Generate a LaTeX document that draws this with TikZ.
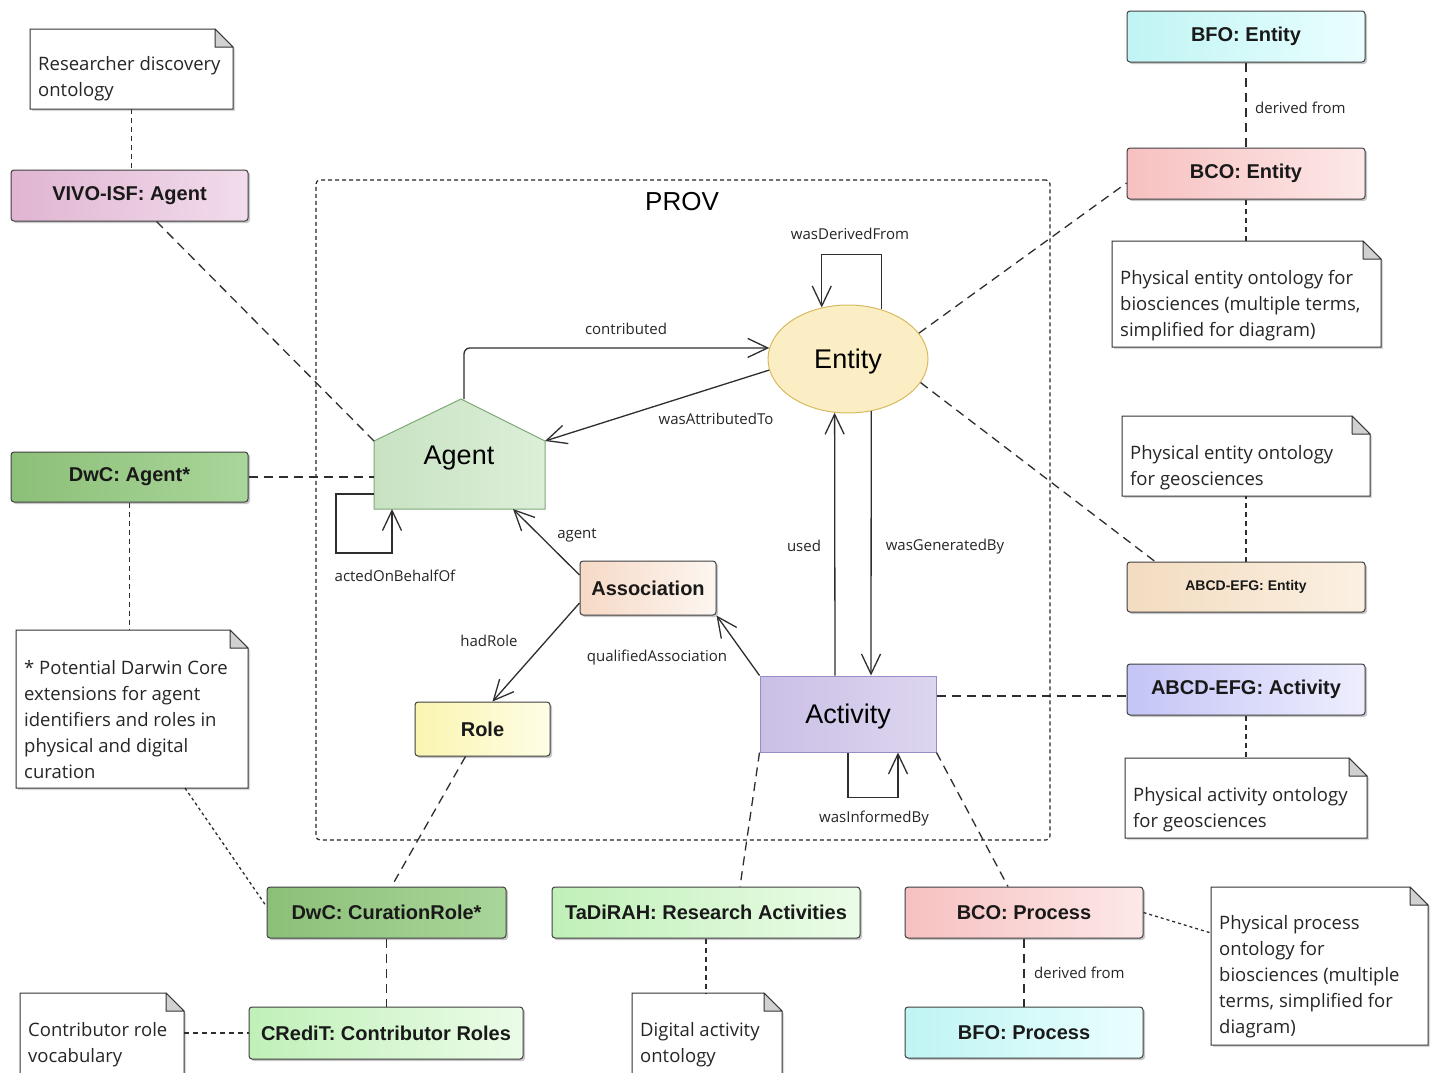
\documentclass[tikz,border=0pt]{standalone}
\usepackage{fontspec}
\setmainfont{Liberation Sans}
\newfontfamily\notefamily{Open Sans}
\usetikzlibrary{arrows.meta,shadows,shapes.geometric}
\newcommand\boxfont{\fontsize{20}{24}\selectfont\bfseries}
\newcommand\smallboxfont{\fontsize{14}{17}\selectfont\bfseries}
\newcommand\bigfont{\fontsize{27}{32}\selectfont}
\newcommand\provfont{\fontsize{26}{30}\selectfont}
\newcommand\notefont{\notefamily\fontsize{18.5}{26}\selectfont}
\newcommand\labfont{\notefamily\fontsize{15}{18}\selectfont}
\definecolor{vivoL}{HTML}{E0B5D2}\definecolor{vivoR}{HTML}{F2DCEB}
\definecolor{dwcL}{HTML}{8CBF78}\definecolor{dwcR}{HTML}{A9D69A}
\definecolor{ltgL}{HTML}{C0F0B8}\definecolor{ltgR}{HTML}{EBFCE8}
\definecolor{cyL}{HTML}{C0F4F4}\definecolor{cyR}{HTML}{EAFEFE}
\definecolor{pkL}{HTML}{F7C0C0}\definecolor{pkR}{HTML}{FDE8E8}
\definecolor{peL}{HTML}{F3DCC0}\definecolor{peR}{HTML}{FBF0E2}
\definecolor{lvL}{HTML}{C4C4F6}\definecolor{lvR}{HTML}{EEEEFE}
\definecolor{asL}{HTML}{F6D9C6}\definecolor{asR}{HTML}{FDF6F0}
\definecolor{roL}{HTML}{FAF5B0}\definecolor{roR}{HTML}{FEFDE6}
\definecolor{acL}{HTML}{CABFE6}\definecolor{acR}{HTML}{DDD6EF}
\definecolor{acD}{HTML}{9A8CC8}
\definecolor{enF}{HTML}{FCEEC4}\definecolor{enD}{HTML}{D8BA5E}
\definecolor{agL}{HTML}{C8E2C2}\definecolor{agR}{HTML}{DCEFD8}\definecolor{agD}{HTML}{7FA878}
\definecolor{lnc}{HTML}{2E2E2E}
\tikzset{
  ont/.style={rectangle, rounded corners=3pt, draw=black!75, line width=1pt, inner sep=0pt,
    font=\boxfont, text=black!90, minimum width=238pt, minimum height=51pt,
    drop shadow={shadow xshift=2pt, shadow yshift=-2pt, opacity=0.22, fill=black}},
  notebase/.style={rectangle, inner sep=0pt, outer sep=0pt, draw=none},
  noteshape/.style={draw=black!80, line width=1pt, fill=white,
    drop shadow={shadow xshift=2pt, shadow yshift=-2pt, opacity=0.15, fill=black}},
  foldshape/.style={draw=black!80, line width=1pt, fill=black!18, line join=round},
  notetext/.style={font=\notefont, align=left, inner sep=0pt, text=black!85, anchor=west},
  lab/.style={font=\labfont, inner sep=0pt, text=black!85},
  arr/.style={draw=lnc, line width=1.3pt, -{Straight Barb[length=20pt,width=19pt,line width=1.3pt]}},
  lnk/.style={draw=lnc, line width=1.3pt, dash pattern=on 9pt off 6pt},
  nlnk/.style={draw=lnc, line width=1.3pt, dash pattern=on 5pt off 4pt},
  dlnk/.style={draw=lnc, line width=1.3pt, dash pattern=on 3pt off 3pt},
  frame/.style={draw=black!85, line width=1.2pt, dash pattern=on 4pt off 3pt, rounded corners=4pt, inner sep=0pt}
}
\newcommand\notebox[7]{%
  \node[notebase, minimum width=#4pt, minimum height=#5pt, anchor=north west] (#1) at (#2,#3) {};
  \draw[noteshape] (#1.north west) -- ([xshift=-18pt]#1.north east) -- ([yshift=-18pt]#1.north east) -- (#1.south east) -- (#1.south west) -- cycle;
  \draw[foldshape] ([xshift=-18pt]#1.north east) -- ([xshift=-18pt,yshift=-18pt]#1.north east) -- ([yshift=-18pt]#1.north east) -- cycle;
  \node[notetext] (#1T) at (#2+8,#6+3) {#7};
}
\begin{document}
\begin{tikzpicture}[x=1pt,y=-1pt]
\fill[white] (0,0) rectangle (1439,1072);
\useasboundingbox (0,0) rectangle (1439,1072);

% PROV frame
\node[frame, minimum width=734pt, minimum height=660pt] (prov) at (683,510) {};
\node[font=\provfont, inner sep=0pt] (provT) at (682,202) {PROV};

% notes
\notebox{resnote}{30}{29}{203}{80}{76}{Researcher discovery\\ontology}
\notebox{potnote}{16}{630}{232}{158}{717}{* Potential Darwin Core\\extensions for agent\\identifiers and roles in\\physical and digital\\curation}
\notebox{bionote}{1112}{241}{269}{106}{303}{Physical entity ontology for\\biosciences (multiple terms,\\simplified for diagram)}
\notebox{geonote}{1122}{416}{248}{80}{465}{Physical entity ontology\\for geosciences}
\notebox{actnote}{1125}{758}{242}{80}{807}{Physical activity ontology\\for geosciences}
\notebox{procnote}{1211}{887}{217}{158}{974}{Physical process\\ontology for\\biosciences (multiple\\terms, simplified for\\diagram)}
\notebox{connote}{20}{993}{164}{92}{1042}{Contributor role\\vocabulary}
\notebox{dignote}{632}{993}{150}{92}{1042}{Digital activity\\ontology}

% ontology boxes
\node[ont, left color=vivoL, right color=vivoR, minimum width=237pt] (vivo) at (129.5,195.5) {VIVO-ISF: Agent};
\node[ont, left color=dwcL, right color=dwcR, minimum width=237pt, minimum height=50pt] (dwcagent) at (129.5,477) {DwC: Agent*};
\node[ont, left color=cyL, right color=cyR] (bfoent) at (1246,36.5) {BFO: Entity};
\node[ont, left color=pkL, right color=pkR] (bcoent) at (1246,173.5) {BCO: Entity};
\node[ont, left color=peL, right color=peR, minimum height=50pt, font=\smallboxfont] (abcdent) at (1246,587) {ABCD-EFG: Entity};
\node[ont, left color=lvL, right color=lvR] (abcdact) at (1246,689.5) {ABCD-EFG: Activity};
\node[ont, left color=dwcL, right color=dwcR, minimum width=239pt] (curation) at (386.5,912.5) {DwC: CurationRole*};
\node[ont, left color=ltgL, right color=ltgR, minimum width=274pt, minimum height=52pt] (credit) at (386,1033) {CRediT: Contributor Roles};
\node[ont, left color=ltgL, right color=ltgR, minimum width=308pt] (tadirah) at (706,912.5) {TaDiRAH: Research Activities};
\node[ont, left color=pkL, right color=pkR] (bcoproc) at (1024,912.5) {BCO: Process};
\node[ont, left color=cyL, right color=cyR] (bfoproc) at (1024,1032.5) {BFO: Process};

% PROV classes
\node[ont, left color=asL, right color=asR, minimum width=136pt, minimum height=54pt] (association) at (648,588) {Association};
\node[ont, left color=roL, right color=roR, minimum width=135pt, minimum height=54pt] (role) at (482.5,729) {Role};
\node[ellipse, draw=enD, line width=1pt, fill=enF, minimum width=160pt, minimum height=108pt, inner sep=0pt, text depth=0pt, font=\bigfont] (entity) at (848,359) {Entity};
\node[rectangle, draw=acD, line width=1pt, left color=acL, right color=acR, minimum width=176pt, minimum height=76pt, inner sep=0pt, text depth=0pt, font=\bigfont] (activity) at (848,714) {Activity};
\coordinate (agBL) at (374,509);
\coordinate (agBR) at (545,509);
\coordinate (agRS) at (545,441);
\coordinate (agTop) at (461,399);
\coordinate (agLS) at (374,441);
\draw[draw=agD, line width=1pt, left color=agL, right color=agR] (agBL) -- (agBR) -- (agRS) -- (agTop) -- (agLS) -- cycle;
\node[font=\bigfont, inner sep=0pt] (agent) at (459,458) {Agent};

% dashed links
\draw[nlnk] (resnote.south) -- (resnote.south |- vivo.north);
\draw[lnk] ([xshift=27pt]vivo.south) -- (agLS);
\draw[lnk] (dwcagent.east) -- (dwcagent.east -| agLS);
\draw[nlnk] (dwcagent.south) -- (dwcagent.south |- potnote.north);
\draw[dlnk] ([xshift=53pt]potnote.south) -- ([yshift=6pt]curation.west);
\draw[lnk] ([xshift=-17pt]role.south) -- ([xshift=5pt]curation.north);
\draw[lnk] (curation.south) -- (curation.south |- credit.north);
\draw[nlnk] (connote.east |- credit.west) -- (credit.west);
\draw[lnk] (activity.south west) -- ([xshift=34pt]tadirah.north);
\draw[nlnk] (tadirah.south) -- (tadirah.south |- dignote.north);
\draw[lnk] (activity.south east) -- ([xshift=-16pt]bcoproc.north);
\draw[lnk] (bcoproc.south) -- (bfoproc.north);
\draw[dlnk] (bcoproc.east) -- ([yshift=33pt]procnote.west);
\draw[lnk] ([yshift=18pt]activity.east) -- ([yshift=18pt]activity.east -| abcdact.west);
\draw[nlnk] (abcdact.south) -- (abcdact.south |- actnote.north);
\draw[nlnk] (abcdent.north) -- (abcdent.north |- geonote.south);
\draw[lnk] (entity.-18) -- ([xshift=-91pt]abcdent.north);
\draw[lnk] (entity.20) -- ([yshift=-9.5pt]bcoent.west);
\draw[nlnk] (bcoent.south) -- (bcoent.south |- bionote.north);
\draw[lnk] (bfoent.south) -- (bcoent.north);

% PROV relations
\draw[arr, rounded corners=6pt] ([xshift=3pt]agTop) |- (entity.172);
\draw[arr] (entity.188) -- (agRS);
\draw[arr] (entity.56) -- ++(0,-55) -| (entity.117);
\draw[arr] ([xshift=-13pt]activity.north) -- (entity.256);
\draw[arr] (entity.294) -- ([xshift=23pt]activity.north);
\draw[arr] ([yshift=13pt]association.west) -- ([xshift=139pt]agBL);
\draw[arr] ([yshift=-15pt]association.west) -- ([xshift=10pt]role.north);
\draw[arr] (activity.north west) -- (association.south east);
\draw[arr] (activity.south) -- ++(0,45) -| ([xshift=50pt]activity.south);
\draw[arr] ([yshift=15pt]agBL) -| ++(-38,59) -| ([xshift=18pt]agBL);

% labels
\node[lab] (lcontrib) at (626,329) {contributed};
\node[lab] (lattr) at (716,419) {wasAttributedTo};
\node[lab] (lderiv) at (850,234) {wasDerivedFrom};
\node[lab] (lused) at (804,546) {used};
\node[lab] (lgen) at (945,547) {wasGeneratedBy};
\node[lab] (lagent) at (577,535) {agent};
\node[lab] (lrole) at (489,641) {hadRole};
\node[lab] (lqa) at (657,658) {qualifiedAssociation};
\node[lab] (linf) at (874,819) {wasInformedBy};
\node[lab] (lbehalf) at (395,576) {actedOnBehalfOf};
\node[lab, anchor=west] (ldf1) at (1255,108) {derived from};
\node[lab, anchor=west] (ldf2) at (1034,973) {derived from};
\end{tikzpicture}
\end{document}
